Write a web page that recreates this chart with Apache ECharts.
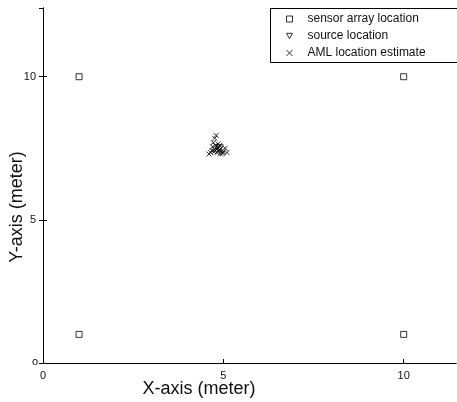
<!DOCTYPE html>
<html><head><meta charset="utf-8">
<script src="https://cdn.jsdelivr.net/npm/echarts@6/dist/echarts.min.js"></script>
<style>html,body{margin:0;padding:0;background:#fff}#c{width:457px;height:402px}</style>
</head><body><div id="c"></div>
<script>
const sensorX = [1, 1, 10, 10];
const sensorY = [1, 10, 10, 1];
const sourceX = [4.9];
const sourceY = [7.5];
const amlX = [4.75,4.8,4.85,4.9,4.7,4.78,4.82,4.95,5.0,4.65,4.6,4.88,4.72,4.76,4.8,4.85,5.05,5.1,4.92,4.68,4.83,4.9,4.74,4.98];
const amlY = [7.45,7.5,7.4,7.45,7.55,7.6,7.35,7.4,7.38,7.35,7.3,7.55,7.7,7.85,7.95,7.65,7.5,7.35,7.3,7.42,7.48,7.6,7.38,7.32];
const xTicks = [0, 5, 10];
const yTicks = [5, 10];
const legendNames = ['sensor array location', 'source location', 'AML location estimate'];

const zip = (a, b) => a.map((v, i) => [v, b[i]]);
const xPath = 'path://M0,0L10,10M10,0L0,10';
const font = 'Liberation Sans, Arial, sans-serif';

const chart = echarts.init(document.getElementById('c'), null, {renderer: 'canvas'});
const axisCommon = {
  type: 'value', min: 0, interval: 5,
  axisLine: {show: true, lineStyle: {color: '#000', width: 1}},
  axisTick: {show: true, inside: true, length: 4, lineStyle: {color: '#000'}},
  splitLine: {show: false},
};
chart.setOption({
  animation: false,
  backgroundColor: '#fff',
  grid: {left: 43, right: 1, top: 8, bottom: 39, show: false},
  xAxis: [
    Object.assign({}, axisCommon, {position: 'bottom', max: 11.45,
      axisLabel: {show: true, margin: 7, color: '#111', fontSize: 11, fontFamily: font,
        showMaxLabel: false, formatter: v => xTicks.includes(v) ? String(v) : ''}}),
    Object.assign({}, axisCommon, {position: 'top', max: 11.45, axisTick: {show: false}, axisLabel: {show: false}})
  ],
  yAxis: [
    Object.assign({}, axisCommon, {position: 'left', max: 12.4,
      axisLabel: {show: true, margin: 7, color: '#111', fontSize: 11, fontFamily: font,
        showMaxLabel: false, showMinLabel: false, formatter: v => yTicks.includes(v) ? String(v) : ''}}),
    Object.assign({}, axisCommon, {position: 'right', max: 12.4, axisLabel: {show: false}})
  ],
  legend: {
    orient: 'vertical', left: 284, top: 13,
    itemWidth: 6, itemHeight: 6, itemGap: 5,
    padding: 0,
    textStyle: {fontSize: 12, fontFamily: font, color: '#111', padding: [0,0,0,10]},
    data: [
      {name: legendNames[0], icon: 'rect', itemStyle: {color: '#fff', borderColor: '#000', borderWidth: 1}},
      {name: legendNames[1], icon: 'path://M0,0L10,0L5,9Z', itemStyle: {color: '#fff', borderColor: '#000', borderWidth: 1}},
      {name: legendNames[2], icon: xPath, itemStyle: {color: 'none', borderColor: '#000', borderWidth: 1}}
    ]
  },
  graphic: [
    {type: 'rect', left: 270, top: 8, z: 0, shape: {width: 190, height: 54},
      style: {fill: '#fff', stroke: '#000', lineWidth: 1}},
    {type: 'text', x: 199, y: 389, style: {text: 'X-axis (meter)', font: '18px ' + font, fill: '#111', align: 'center', verticalAlign: 'middle'}},
    {type: 'text', x: 17, y: 207, rotation: Math.PI / 2,
      style: {text: 'Y-axis (meter)', font: '18px ' + font, fill: '#111', align: 'center', verticalAlign: 'middle'}},
    {type: 'text', x: 35, y: 362, style: {text: 'o', font: '11px ' + font, fill: '#111', align: 'center', verticalAlign: 'middle'}}
  ],
  series: [
    {name: legendNames[0], type: 'scatter', data: zip(sensorX, sensorY), symbol: 'rect', symbolSize: 6,
      itemStyle: {color: '#fff', borderColor: '#000', borderWidth: 1}},
    {name: legendNames[1], type: 'scatter', data: zip(sourceX, sourceY), symbol: 'triangle', symbolRotate: 180, symbolSize: 7,
      itemStyle: {color: '#fff', borderColor: '#000', borderWidth: 1}},
    {name: legendNames[2], type: 'scatter', data: zip(amlX, amlY), symbol: xPath, symbolSize: 5,
      itemStyle: {color: 'none', borderColor: '#000', borderWidth: 1}}
  ]
});
</script></body></html>
